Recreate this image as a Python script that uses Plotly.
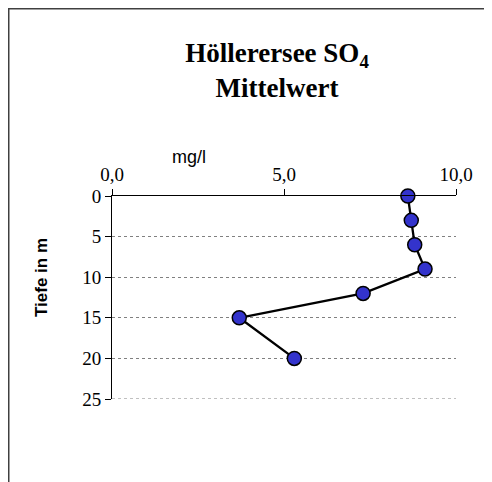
import plotly.graph_objects as go

# SO4 mean concentration (mg/l) by depth (m)
depth_m = [0, 3, 6, 9, 12, 15, 20]
so4_mg_l = [8.6, 8.7, 8.8, 9.1, 7.3, 3.7, 5.3]

x_ticks = [0, 5, 10]
y_ticks = [0, 5, 10, 15, 20, 25]

# the page puts the figure 8px in from the top left corner
OFF = 8
W, H = 492 - OFF, 482 - OFF
L, R, T, B = 112 - OFF, 36, 196 - OFF, 83
pw, ph = W - L - R, H - T - B


def px_x(p):
    # screen pixel -> paper x
    return (p - OFF - L) / pw


def px_y(p):
    # screen pixel -> paper y
    return (H - B - (p - OFF)) / ph


fig = go.Figure()
fig.add_trace(
    go.Scatter(
        x=so4_mg_l,
        y=depth_m,
        mode="lines+markers",
        line=dict(color="black", width=2.3),
        marker=dict(size=14, color="#3333CC", line=dict(color="black", width=1.5)),
        showlegend=False,
        cliponaxis=False,
    )
)

fig.update_layout(
    width=W,
    height=H,
    margin=dict(l=L, r=R, t=T, b=B),
    paper_bgcolor="white",
    plot_bgcolor="white",
    separators=", ",
    title=dict(
        text="Höllerersee SO<sub>4</sub><br>Mittelwert",
        x=px_x(277),
        xref="paper",
        xanchor="center",
        y=1 - (62 - OFF) / H,
        yanchor="middle",
        font=dict(family="Liberation Serif", size=27, color="black", weight="bold"),
    ),
    xaxis=dict(
        side="top",
        range=[0, 10],
        tickvals=x_ticks,
        tickformat=".1f",
        showgrid=False,
        zeroline=False,
        showline=True,
        linecolor="black",
        linewidth=1,
        ticks="outside",
        ticklen=6,
        tickcolor="black",
        tickfont=dict(family="Liberation Serif", size=19, color="black"),
    ),
    yaxis=dict(
        range=[25, 0],
        tickvals=y_ticks,
        showgrid=True,
        gridcolor="#808080",
        griddash="dot",
        gridwidth=1,
        zeroline=False,
        showline=True,
        linecolor="black",
        linewidth=1,
        ticks="outside",
        ticklen=6,
        tickcolor="black",
        tickfont=dict(family="Liberation Serif", size=19, color="black"),
    ),
    annotations=[
        dict(
            text="mg/l",
            x=px_x(189),
            y=px_y(157),
            xref="paper",
            yref="paper",
            xanchor="center",
            yanchor="middle",
            showarrow=False,
            font=dict(family="Liberation Sans", size=18, color="black"),
        ),
        dict(
            text="<b>Tiefe in m</b>",
            x=px_x(41),
            y=px_y(278),
            xref="paper",
            yref="paper",
            xanchor="center",
            yanchor="middle",
            textangle=-90,
            showarrow=False,
            font=dict(family="Liberation Sans", size=17, color="black"),
        ),
    ],
    shapes=[
        # bottom gridline (plotly leaves out the one on the plot edge)
        dict(
            type="line",
            xref="paper",
            yref="y",
            x0=0,
            x1=1,
            y0=y_ticks[-1],
            y1=y_ticks[-1],
            line=dict(color="#808080", width=1, dash="dot"),
            layer="below",
        ),
        dict(
            type="rect",
            xref="paper",
            yref="paper",
            x0=px_x(OFF + 0.75),
            x1=px_x(486),
            y0=px_y(H + OFF + 20),
            y1=px_y(OFF + 0.75),
            line=dict(color="#404040", width=1.5),
            layer="below",
        ),
    ],
)

fig.write_html("out.html")
